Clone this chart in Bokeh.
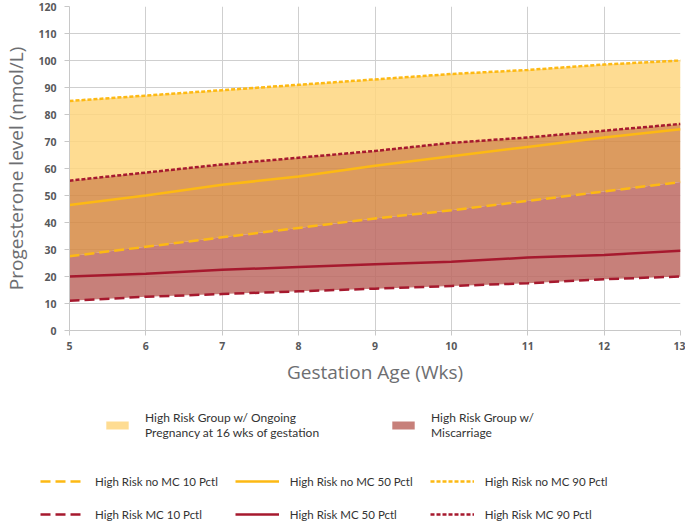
from bokeh.plotting import figure
from bokeh.models import Legend, LegendItem, Range1d, FixedTicker, ColumnDataSource
from bokeh.embed import file_html
from bokeh.resources import INLINE

# ---- data ----
weeks = [5, 6, 7, 8, 9, 10, 11, 12, 13]
y_ticks = [0, 10, 20, 30, 40, 50, 60, 70, 80, 90, 100, 110, 120]
nomc_p90 = [85, 87, 89, 91, 93, 95, 96.5, 98.5, 100]
nomc_p50 = [46.5, 50, 54, 57, 61, 64.5, 68, 71.5, 74.5]
nomc_p10 = [27.5, 31, 34.5, 38, 41.5, 44.5, 48, 51.5, 55]
mc_p90 = [55.5, 58.5, 61.5, 64, 66.5, 69.5, 71.5, 74, 76.5]
mc_p50 = [20, 21, 22.5, 23.5, 24.5, 25.5, 27, 28, 29.5]
mc_p10 = [11, 12.5, 13.5, 14.5, 15.5, 16.5, 17.5, 19, 20]

band_labels = ["High Risk Group w/ Ongoing\nPregnancy at 16 wks of gestation",
               "High Risk Group w/\nMiscarriage"]
line_labels = ["High Risk no MC 10 Pctl", "High Risk no MC 50 Pctl", "High Risk no MC 90 Pctl",
               "High Risk MC 10 Pctl", "High Risk MC 50 Pctl", "High Risk MC 90 Pctl"]

src = ColumnDataSource(dict(x=weeks, n90=nomc_p90, n50=nomc_p50, n10=nomc_p10,
                            m90=mc_p90, m50=mc_p50, m10=mc_p10))

YEL_FILL = "#FED67F"
ORG_FILL = "#D68943"
ROSE_FILL = "#BD6A63"
YEL_LINE = "#FDB913"
RED_LINE = "#A6192E"
FA = 0.85
LW = 2.5
DASH10 = "10 5"
DASH90 = "4 2"


def draw_series(fig):
    rs = {}
    rs["yel"] = fig.varea(x="x", y1="m90", y2="n90", source=src, fill_color=YEL_FILL, fill_alpha=FA)
    rs["org"] = fig.varea(x="x", y1="n10", y2="m90", source=src, fill_color=ORG_FILL, fill_alpha=FA)
    rs["rose"] = fig.varea(x="x", y1="m10", y2="n10", source=src, fill_color=ROSE_FILL, fill_alpha=FA)
    rs["n10"] = fig.line("x", "n10", source=src, line_color=YEL_LINE, line_width=LW, line_dash=DASH10)
    rs["n50"] = fig.line("x", "n50", source=src, line_color=YEL_LINE, line_width=LW)
    rs["n90"] = fig.line("x", "n90", source=src, line_color=YEL_LINE, line_width=LW, line_dash=DASH90)
    rs["m10"] = fig.line("x", "m10", source=src, line_color=RED_LINE, line_width=LW, line_dash=DASH10)
    rs["m50"] = fig.line("x", "m50", source=src, line_color=RED_LINE, line_width=LW)
    rs["m90"] = fig.line("x", "m90", source=src, line_color=RED_LINE, line_width=LW, line_dash=DASH90)
    return rs


# ---------------- main chart ----------------
p = figure(width=685, height=394, output_backend="svg", toolbar_location=None,
           x_range=Range1d(5, 13), y_range=Range1d(0, 120),
           min_border_left=69, min_border_right=5, min_border_top=6, min_border_bottom=64)
p.outline_line_color = None
draw_series(p)

p.xaxis.ticker = FixedTicker(ticks=weeks)
p.yaxis.ticker = FixedTicker(ticks=y_ticks)
p.grid.grid_line_color = "#cfcfcf"
p.grid.grid_line_width = 1

p.axis.axis_line_color = "#c8c8c8"
p.axis.major_tick_line_color = "#c8c8c8"
p.axis.major_tick_out = 5
p.axis.major_tick_in = 0
p.axis.minor_tick_line_color = None
p.axis.major_label_text_font = "Open Sans"
p.axis.major_label_text_font_style = "bold"
p.axis.major_label_text_font_size = "10.5px"
p.axis.major_label_text_color = "#58595b"
p.yaxis.major_label_standoff = 8
p.xaxis.major_label_standoff = 6

p.xaxis.axis_label = "Gestation Age (Wks)"
p.yaxis.axis_label = "Progesterone level (nmol/L)"
p.axis.axis_label_text_font = "Open Sans"
p.axis.axis_label_text_font_size = "19px"
p.axis.axis_label_text_font_style = "normal"
p.axis.axis_label_text_color = "#6d6e71"
p.xaxis.axis_label_standoff = 6
p.yaxis.axis_label_standoff = 6

# ---------------- legend panel (series drawn out of view, only legend shows) ----------------
q = figure(width=685, height=130, output_backend="svg", toolbar_location=None,
           x_range=Range1d(0, 1), y_range=Range1d(-2, -1),
           x_axis_location=None, y_axis_location=None,
           min_border_left=0, min_border_right=0, min_border_top=0, min_border_bottom=0)
q.outline_line_color = None
q.grid.visible = False
k = draw_series(q)

common = dict(label_text_font="Lato", label_text_color="#333333",
              background_fill_alpha=0, border_line_color=None, padding=0, margin=0)

legend1 = Legend(items=[LegendItem(label=band_labels[0], renderers=[k["yel"]]),
                        LegendItem(label=band_labels[1], renderers=[k["rose"]])],
                 orientation="horizontal", location=(103, 84), label_text_font_size="12px",
                 glyph_width=28, glyph_height=10, label_standoff=14, label_width=230,
                 spacing=14, **common)
legend2 = Legend(items=[LegendItem(label=line_labels[0], renderers=[k["n10"]]),
                        LegendItem(label=line_labels[1], renderers=[k["n50"]]),
                        LegendItem(label=line_labels[2], renderers=[k["n90"]]),
                        LegendItem(label=line_labels[3], renderers=[k["m10"]]),
                        LegendItem(label=line_labels[4], renderers=[k["m50"]]),
                        LegendItem(label=line_labels[5], renderers=[k["m90"]])],
                 orientation="horizontal", ncols=3, location=(40, 2), label_text_font_size="11.5px",
                 glyph_width=44, glyph_height=16, label_standoff=11, label_width=118,
                 spacing=17, **common)
q.add_layout(legend1)
q.add_layout(legend2)

open("out.html", "w").write(file_html([p, q], INLINE))
